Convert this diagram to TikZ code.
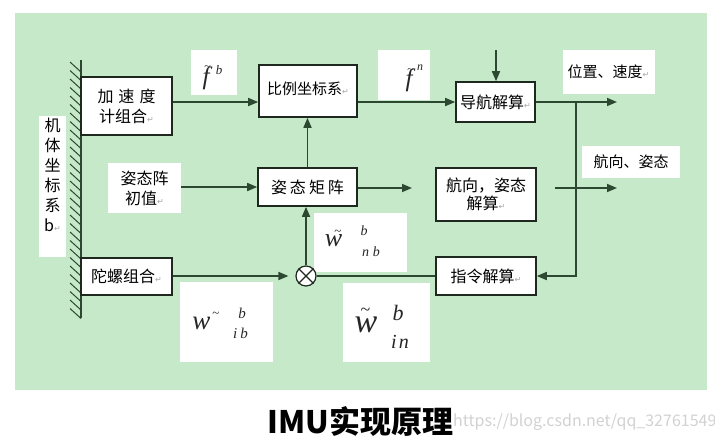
\documentclass[tikz,border=0pt]{standalone}
\usepackage{fontspec}
\newfontfamily\cjk{Noto Sans CJK SC}
\newfontfamily\dejavu{DejaVu Sans}
\newfontfamily\tms{Liberation Serif}
\usetikzlibrary{arrows.meta}
\definecolor{bg}{RGB}{197,233,201}
\definecolor{lncol}{RGB}{45,72,48}
\definecolor{bxcol}{RGB}{30,40,30}
\newcommand\ret{{\dejavu\fontsize{8}{8}\selectfont\color{gray!70}↵}}
\begin{document}
\begin{tikzpicture}[x=1pt,y=-1pt,
  box/.style={draw=bxcol, line width=1.6pt, fill=white, inner sep=0pt, align=center,
    font=\cjk\fontsize{16}{20}\selectfont},
  lab/.style={fill=white, draw=none, inner sep=0pt, align=center,
    font=\cjk\fontsize{15}{19}\selectfont},
  txt/.style={inner sep=0pt, align=center, font=\cjk\fontsize{16}{20}\selectfont},
  mth/.style={fill=white, draw=none, inner sep=0pt},
  it/.style={inner sep=0pt, text=black!85, font=\tms\itshape\fontsize{#1}{#1}\selectfont},
  tld/.style={inner sep=0pt, text=black!85, font=\tms\fontsize{#1}{#1}\selectfont},
  wire/.style={draw=lncol, line width=1.6pt},
  arr/.style={wire, -{Triangle[length=10pt,width=8pt]}}]
\useasboundingbox (0,0) rectangle (715,445);
\fill[white] (0,0) rectangle (715,445);
\fill[bg] (15,13) rectangle (707,390);

% wall (body frame)
\draw[wire] (81,60) -- (81,318);
\foreach \y in {62,70.5,...,310} \draw[draw=lncol, line width=1pt] (70,\y) -- (81,\y+10);

% white label boxes
\node[mth, minimum width=27, minimum height=141] (bodybg) at (52.5,186.5) {};
\node[txt, font=\cjk\fontsize{16}{20}\selectfont] (body) at (52.5,175) {机\\体\\坐\\标\\系\\b\ret};
\node[lab, minimum width=73, minimum height=50, font=\cjk\fontsize{16}{20}\selectfont] (init) at (144.5,188) {姿态阵\\初值\ret};
\node[lab, minimum width=92, minimum height=44] (pos) at (608.5,72) {位置、速度\ret};
\node[lab, minimum width=98, minimum height=32] (attoutlab) at (631,162) {航向、姿态};

% f~^b
\node[mth, minimum width=46, minimum height=45] (fb) at (214,72.5) {};
\node[it=25] (fbf) at (206,78.5) {f};
\node[tld=12] (fbt) at (207.5,68) {\textasciitilde};
\node[it=13] (fbb) at (219,70) {b};
% f~^n
\node[mth, minimum width=52, minimum height=50] (fn) at (404,75) {};
\node[it=25] (fnf) at (409,80.5) {f};
\node[tld=12] (fnt) at (410.5,71) {\textasciitilde};
\node[it=12] (fnn) at (420,68) {n};
% w~_ib^b
\node[mth, minimum width=93, minimum height=80] (wib) at (226.5,322) {};
\node[it=27] (wibw) at (201.5,323) {w};
\node[tld=13] (wibt) at (216,315) {\textasciitilde};
\node[it=15] (wibb) at (242,313) {b};
\node[it=15] (wibs) at (240.5,333) {i\hspace{3pt}b};
% w~_nb^b
\node[mth, minimum width=93, minimum height=59] (wnb) at (360.5,242.5) {};
\node[it=26] (wnbw) at (333.5,241) {w};
\node[tld=13] (wnbt) at (338,233) {\textasciitilde};
\node[it=14] (wnbb) at (364,231) {b};
\node[it=14] (wnbs) at (371,252) {n\hspace{4pt}b};
% w~_in^b
\node[mth, minimum width=87, minimum height=79] (win) at (386.5,322.5) {};
\node[it=34] (winw) at (366,325) {w};
\node[tld=18] (wint) at (365.5,312) {\textasciitilde};
\node[it=22] (winb) at (398,313) {b};
\node[it=20] (wins) at (400,342) {i\hspace{2pt}n};

% boxes
\node[box, minimum width=91, minimum height=58] (acc) at (126.5,106) {加\hspace{5pt}速\hspace{5pt}度\\计组合\ret};
\node[box, minimum width=98, minimum height=52, font=\cjk\fontsize{15}{19}\selectfont] (ratio) at (308,91) {\raisebox{6pt}{比例坐标系\ret}};
\node[box, minimum width=79, minimum height=40] (nav) at (495.5,102) {导航解算\ret};
\node[box, minimum width=99, minimum height=38] (att) at (307.5,187) {姿\hspace{3pt}态\hspace{3pt}矩\hspace{3pt}阵};
\node[box, minimum width=100, minimum height=53, font=\cjk\fontsize{16}{18}\selectfont] (hdg) at (486,194.5) {航向，姿态\\解算\ret};
\node[box, minimum width=100, minimum height=38] (cmd) at (486,276) {指令解算\ret};
\node[box, minimum width=91, minimum height=37] (gyro) at (126.5,276.5) {陀螺组合\ret};
\node[circle, draw=bxcol, line width=1.2pt, fill=white, minimum size=20, inner sep=0pt] (ot) at (306,276) {};
\draw[draw=bxcol, line width=1.2pt] (ot.north west) -- (ot.south east) (ot.north east) -- (ot.south west);

% free ends
\coordinate (navin) at (496,50);
\coordinate (posout) at (617,102);
\coordinate (split) at (576,102);
\coordinate (attin) at (555,188);
\coordinate (attout) at (617,188);
\coordinate (attmout) at (412,188);

% connectors
\draw[arr] (acc.east |- 0,102) -- (ratio.west |- 0,102);
\draw[arr] (ratio.east |- nav.west) -- (nav.west);
\draw[arr] (navin) -- (navin |- nav.north);
\draw[arr] (nav.east) -- (posout);
\draw[arr] (attin) -- (attout);
\draw[arr] (split) -- (split |- cmd.east) -- (cmd.east);
\draw[arr] (att.east |- attmout) -- (attmout);
\draw[arr] (init.east |- att.west) -- (att.west);
\draw[arr] (att.north) -- (att.north |- ratio.south);
\draw[arr] (gyro.east |- ot.west) -- ([xshift=-7pt]ot.west);
\draw[wire] (ot.east) -- (cmd.west);
\draw[arr] (ot.north) -- (ot.north |- att.south);

% title and watermark
\node[inner sep=0pt, font=\cjk\bfseries\fontsize{31}{34}\selectfont] (title) at (360.5,421) {IMU实现原理};
\node[inner sep=0pt, anchor=west, text=gray!35, font=\cjk\fontsize{16}{18}\selectfont] (wm) at (453,422) {https://blog.csdn.net/qq\_32761549};
\end{tikzpicture}
\end{document}
